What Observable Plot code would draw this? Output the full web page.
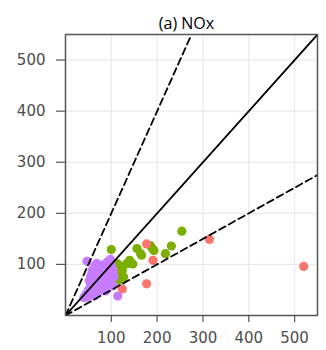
<!DOCTYPE html>
<html><head><meta charset="utf-8">
<script src="https://cdn.jsdelivr.net/npm/d3@7"></script>
<script src="https://cdn.jsdelivr.net/npm/@observablehq/plot@0.6"></script>
<style>
body{margin:0;background:#fff;} svg{display:block}
</style>
</head><body><div id="chart"></div>
<script>
const title = "(a) NOx";
const axisMax = 550;
const ticks = [100, 200, 300, 400, 500];
const slopes = [0.5, 1, 2];
const greenPts = [[100,129],[114,101],[124,88],[127,75],[116,69],[109,82],[140,108],[147,101],[133,101],[156,131],[164,121],[166,118],[185,137],[193,127],[189,132],[218,121],[231,136],[254,165],[116,92],[110,95],[120,80],[105,72]];
const redPts = [[520,96],[314,149],[177,140],[191,108],[177,62],[124,52]];
const cyanPts = [[51,43],[56,48]];
const purplePts = [[47,106],[98,110],[92,105],[85,100],[75,95],[70,90],[80,88],[90,92],[100,98],[65,80],[72,78],[82,80],[95,82],[104,88],[60,70],[70,68],[85,70],[95,72],[106,76],[55,60],[65,60],[78,60],[90,62],[100,65],[50,50],[60,50],[72,52],[85,55],[45,42],[62,45],[70,45],[40,35],[46,36],[114,38],[62,38],[104,58],[88,48],[78,72],[76,98],[58,88],[63,96],[68,102],[55,78],[52,68]];
const groups = [["G2", greenPts, "#7CAE00"], ["G1", redPts, "#F8766D"], ["G3", cyanPts, "#00BFC4"], ["G4", purplePts, "#C77CFF"]];
const points = groups.flatMap(([g, pts]) => pts.map(([x, y]) => ({g, x, y})));
const lines = slopes.map(s => ({s, pts: [[0,0],[Math.min(axisMax, axisMax / s), Math.min(axisMax, axisMax * s)]]}));

const plot = Plot.plot({
  width: 326, height: 350,
  marginLeft: 65, marginRight: 9, marginTop: 34, marginBottom: 35,
  style: "font-family: 'DejaVu Sans', sans-serif; font-size: 15px; color: #4d4d4d;",
  x: {domain: [0, axisMax], label: null},
  y: {domain: [0, axisMax], label: null},
  color: {domain: groups.map(d => d[0]), range: groups.map(d => d[2])},
  marks: [
    Plot.gridX(ticks, {stroke: "#e6e6e6", strokeOpacity: 1}),
    Plot.gridY(ticks, {stroke: "#e6e6e6", strokeOpacity: 1}),
    Plot.dot(points, {x: "x", y: "y", fill: "g", r: 4.6, stroke: "none"}),
    ...lines.map(l => Plot.line(l.pts, {x: d => d[0], y: d => d[1], stroke: "#000", strokeWidth: 1.8, strokeDasharray: l.s === 1 ? null : "7,4", clip: true})),
    Plot.axisX({ticks, tickSize: 7, tickPadding: 10, stroke: "#555", strokeWidth: 1.2, fill: "#4d4d4d", fontSize: 15, label: null}),
    Plot.axisY({ticks, tickSize: 9, tickPadding: 11, stroke: "#555", strokeWidth: 1.2, fill: "#4d4d4d", fontSize: 15, label: null}),
    Plot.frame({stroke: "#555", strokeWidth: 1.5}),
    Plot.text([title], {frameAnchor: "top", dy: -17, dx: -5, text: d => d, fill: "#000", fontSize: 16, fontFamily: "Open Sans, sans-serif"})
  ]
});
document.getElementById("chart").appendChild(plot);
</script></body></html>
